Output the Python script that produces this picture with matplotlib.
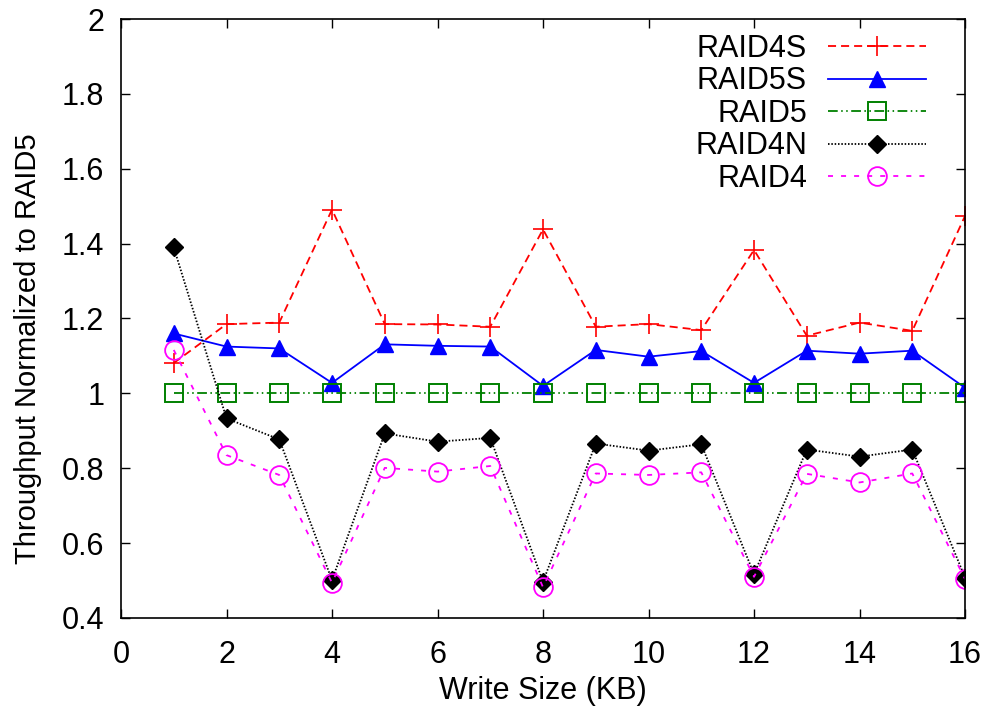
import matplotlib
matplotlib.use("Agg")
import matplotlib.pyplot as plt

plt.rcParams['font.family'] = ['Liberation Sans', 'DejaVu Sans']
plt.rcParams['lines.scale_dashes'] = False

write_kb = [1, 2, 3, 4, 5, 6, 7, 8, 9, 10, 11, 12, 13, 14, 15, 16]

raid4s = [1.081, 1.185, 1.189, 1.491, 1.185, 1.184, 1.178, 1.438,
          1.178, 1.185, 1.169, 1.383, 1.154, 1.189, 1.167, 1.474]
raid5s = [1.160, 1.125, 1.120, 1.028, 1.131, 1.127, 1.125, 1.020,
          1.116, 1.098, 1.113, 1.028, 1.114, 1.106, 1.114, 1.015]
raid5 = [1.0] * 16
raid4n = [1.390, 0.933, 0.877, 0.501, 0.893, 0.871, 0.881, 0.497,
          0.866, 0.847, 0.864, 0.517, 0.850, 0.831, 0.850, 0.508]
raid4 = [1.116, 0.835, 0.782, 0.494, 0.801, 0.791, 0.806, 0.482,
         0.786, 0.782, 0.789, 0.510, 0.785, 0.762, 0.786, 0.504]

x_ticks = [0, 2, 4, 6, 8, 10, 12, 14, 16]
y_ticks = [0.4, 0.6, 0.8, 1.0, 1.2, 1.4, 1.6, 1.8, 2.0]
y_tick_labels = ['0.4', '0.6', '0.8', '1', '1.2', '1.4', '1.6', '1.8', '2']

fig = plt.figure(figsize=(9.91, 7.17), dpi=100)
ax = fig.add_axes([0.1221, 0.1381, 0.8517, 0.8354])

lw = 1.3
ax.plot(write_kb, raid4s, color='#ff0000', lw=lw, ls=(0, (5.8, 3.6)),
        marker='+', ms=14.5, mew=1.2, label='RAID4S')
ax.plot(write_kb, raid5s, color='#0000ff', lw=lw, ls='-',
        marker='^', ms=11.5, label='RAID5S')
ax.plot(write_kb, raid5, color='#008000', lw=lw,
        ls=(0, (7, 2.5, 1.1, 2.5, 1.1, 2.5)),
        marker='s', ms=13.5, mfc='none', mew=1.4, label='RAID5')
ax.plot(write_kb, raid4n, color='#000000', lw=lw, ls=(0, (1.1, 1.3)),
        marker='D', ms=8.8, label='RAID4N')
ax.plot(write_kb, raid4, color='#ff00ff', lw=lw, ls=(0, (3.6, 5.8)),
        marker='o', ms=13.5, mfc='none', mew=1.3, label='RAID4')

ax.set_xlim(0, 16)
ax.set_ylim(0.4, 2.0)
ax.set_xticks(x_ticks)
ax.set_yticks(y_ticks)
ax.set_yticklabels(y_tick_labels)

fs = 22
ax.tick_params(axis='both', which='major', direction='in', length=6.5,
               width=1.0, labelsize=fs, top=True, right=True)
ax.tick_params(axis='x', pad=16)
ax.tick_params(axis='y', pad=12)
for s in ax.spines.values():
    s.set_linewidth(1.2)

ax.set_xlabel('Write Size (KB)', fontsize=fs, labelpad=4)
ax.set_ylabel('Throughput Normalized to RAID5', fontsize=21)
ax.yaxis.set_label_coords(-0.094, 0.45)

leg = ax.legend(loc='upper right', bbox_to_anchor=(0.954, 0.975),
                frameon=False, fontsize=fs, markerfirst=False,
                numpoints=1, handlelength=3.2, handletextpad=0.7,
                labelspacing=0.08, borderpad=0, borderaxespad=0)

fig.savefig('out.png', dpi=100)
